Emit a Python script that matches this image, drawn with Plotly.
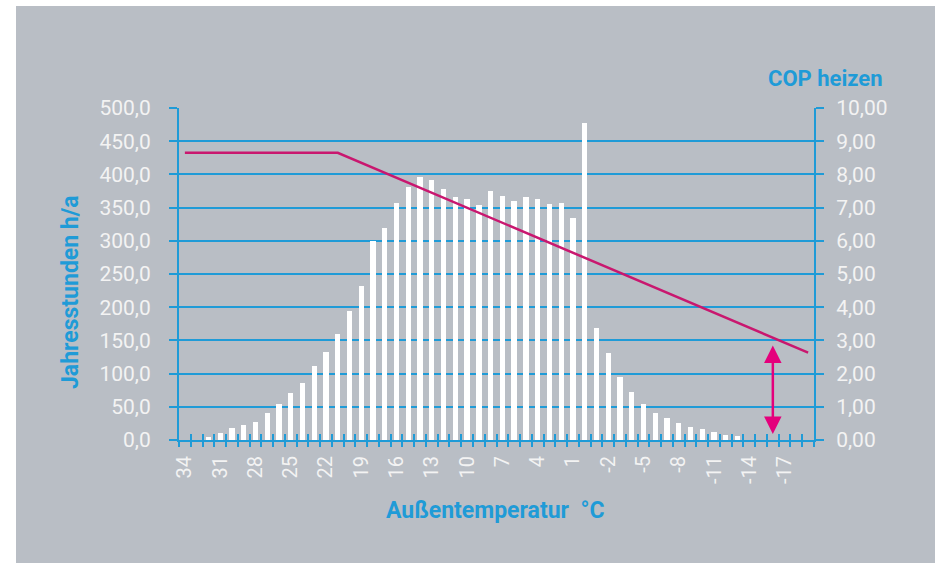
import plotly.graph_objects as go

# ---- data ----
temps = list(range(34, -20, -1))  # 34 ... -19 °C
hours = [0, 0, 5, 11, 17.6, 22.6, 26.6, 40, 54, 71,
         86, 111, 133, 160, 194, 232, 300, 320, 357, 381,
         396, 391, 378, 366, 363, 354, 375, 368, 360, 366,
         363, 355, 357, 335, 478, 168, 131, 95, 72, 54,
         40, 33, 25, 20, 17, 11.5, 7.5, 6, 0, 0,
         0, 0, 0, 0]
cop_temps = [34, 21, -19]
cop_values = [8.65, 8.65, 2.63]
arrow_temp = -16
arrow_cop = [0.18, 2.89]
x_tick_temps = list(range(34, -18, -3))
x_tick_labels = [str(t) for t in x_tick_temps]
left_ticks = list(range(0, 501, 50))
right_ticks = list(range(0, 11))

BLUE = '#1F9BD7'
BG = '#B9BEC5'
LABEL = '#F3F3F3'
LINE = '#C9176F'
ARROW = '#E4007C'
FONT = 'Roboto'

boundaries = [t + 0.5 for t in temps] + [temps[-1] - 0.5]
xr = [temps[0] + 0.5, temps[-1] - 0.5]

fig = go.Figure()
fig.add_bar(x=temps, y=hours, marker_color='white', marker_line_width=0,
            width=0.45, hoverinfo='skip')
fig.add_scatter(x=cop_temps, y=cop_values, yaxis='y2', mode='lines',
                line=dict(color=LINE, width=2.5), hoverinfo='skip')
fig.add_scatter(x=[temps[0]], y=[0], xaxis='x2', mode='markers',
                marker=dict(opacity=0), hoverinfo='skip')
fig.add_scatter(x=[temps[0]], y=[0], xaxis='x3', mode='markers',
                marker=dict(opacity=0), hoverinfo='skip')

tick_axis = dict(overlaying='x', range=xr, tickmode='array', tickvals=boundaries,
                 ticklen=6, tickwidth=2, tickcolor=BLUE, showticklabels=False,
                 showgrid=False, showline=False, zeroline=False)

fig.update_layout(
    width=935, height=563,
    margin=dict(l=179, r=121, t=108, b=123),
    paper_bgcolor=BG, plot_bgcolor=BG,
    separators=',.',
    showlegend=False, hovermode=False,
    font=dict(family=FONT, color=LABEL),
    bargap=0,
    xaxis=dict(range=xr, tickmode='array', tickvals=x_tick_temps, ticktext=x_tick_labels,
               tickangle=-90, ticks='', showline=True, linecolor=BLUE, linewidth=2,
               showgrid=False, zeroline=False, ticklabelstandoff=6,
               tickfont=dict(family=FONT, color=LABEL, size=20)),
    xaxis2=dict(tick_axis, ticks='outside'),
    xaxis3=dict(tick_axis, ticks='inside'),
    yaxis=dict(range=[0, 500], tickmode='array', tickvals=left_ticks, tickformat='.1f',
               ticks='outside', ticklen=8, tickwidth=2, tickcolor=BLUE,
               showgrid=True, gridcolor=BLUE, gridwidth=2,
               showline=True, linecolor=BLUE, linewidth=2, zeroline=False,
               ticklabelstandoff=14,
               tickfont=dict(family=FONT, color=LABEL, size=21)),
    yaxis2=dict(overlaying='y', side='right', range=[0, 10], tickmode='array',
                tickvals=right_ticks, tickformat='.2f',
                ticks='outside', ticklen=8, tickwidth=2, tickcolor=BLUE,
                showgrid=False, showline=True, linecolor=BLUE, linewidth=2,
                zeroline=False, ticklabelstandoff=8,
                tickfont=dict(family=FONT, color=LABEL, size=21)),
)

fig.add_annotation(x=-0.170, y=0.446, xref='paper', yref='paper', showarrow=False,
                   xanchor='center', yanchor='middle',
                   text='<b>Jahresstunden h/a</b>', textangle=-90,
                   font=dict(family=FONT, size=23, color=BLUE))
fig.add_annotation(x=1.017, y=1.090, xref='paper', yref='paper', showarrow=False,
                   xanchor='center', yanchor='middle',
                   text='<b>COP heizen</b>',
                   font=dict(family=FONT, size=22, color=BLUE))
fig.add_annotation(x=0.498, y=-0.211, xref='paper', yref='paper', showarrow=False,
                   xanchor='center', yanchor='middle',
                   text='<b>Außentemperatur  °C</b>',
                   font=dict(family=FONT, size=23, color=BLUE))
fig.add_annotation(x=arrow_temp, y=arrow_cop[0], xref='x', yref='y2',
                   ax=arrow_temp, ay=arrow_cop[1], axref='x', ayref='y2',
                   text='', showarrow=True, arrowhead=2, arrowside='end+start',
                   arrowcolor=ARROW, arrowwidth=2.5, arrowsize=1.4, standoff=0)

# white border strips (left and top) as in the reference image
fig.add_shape(type='rect', xref='paper', yref='paper', x0=-0.30, x1=-0.2567,
              y0=-0.5, y1=1.5, fillcolor='white', line_width=0, layer='below')
fig.add_shape(type='rect', xref='paper', yref='paper', x0=-0.30, x1=1.3,
              y0=1.3072, y1=1.5, fillcolor='white', line_width=0, layer='below')

fig.write_html('out.html', config={'displayModeBar': False},
               post_script="document.body.style.margin='0';")
